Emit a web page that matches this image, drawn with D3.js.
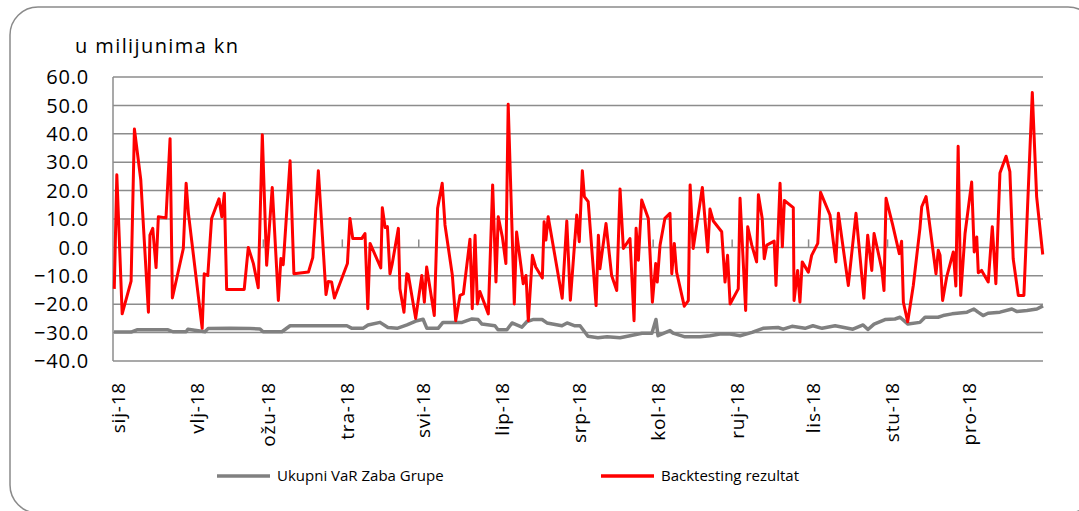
<!DOCTYPE html>
<html>
<head>
<meta charset="utf-8">
<script src="https://cdn.jsdelivr.net/npm/d3@7"></script>
<style>
  body { margin: 0; background: #fff; }
  svg { display: block; }
  text { font-family: "Open Sans", sans-serif; fill: #000; }
</style>
</head>
<body>
<svg id="chart" width="1079" height="511"></svg>
<script>
// month labels (Croatian short names)
const monthLabels = ['sij-18', 'vlj-18', 'ožu-18', 'tra-18', 'svi-18', 'lip-18', 'srp-18', 'kol-18', 'ruj-18', 'lis-18', 'stu-18', 'pro-18']
const yTicks = [60, 50, 40, 30, 20, 10, 0, -10, -20, -30, -40]
const seriesNames = ['Ukupni VaR Zaba Grupe', 'Backtesting rezultat']

// [day of year 2018, value in mil. kn]
const varGroup = [
  [0.4, -29.8], [7.1, -29.8], [9.4, -29.0], [21.6, -29.0], [23.5, -29.7], [28.7, -29.7], [29.4, -28.8],
  [36.1, -29.7], [37.3, -28.6], [45.9, -28.5], [53.8, -28.6], [57.7, -28.7], [58.9, -29.7], [66.3, -29.7],
  [69.5, -27.6], [91.8, -27.6], [93.8, -28.5], [98.1, -28.5], [100.1, -27.3], [104.8, -26.4], [107.9, -28.2],
  [111.5, -28.5], [115.4, -27.3], [119.3, -25.8], [121.7, -25.3], [123.2, -28.5], [127.6, -28.5], [129.5, -26.4],
  [137.0, -26.4], [140.9, -25.2], [143.3, -25.4], [144.8, -27.0], [149.9, -27.6], [151.1, -29.0], [154.6, -29.0],
  [156.6, -26.6], [160.5, -28.1], [162.5, -26.1], [164.8, -25.4], [168.4, -25.4], [170.3, -26.6], [176.2, -27.6],
  [178.2, -26.6], [181.3, -27.6], [183.3, -27.6], [186.4, -31.3], [190.3, -31.8], [193.9, -31.5], [199.0, -31.8],
  [202.9, -31.1], [207.6, -30.2], [211.5, -30.2], [213.1, -25.4], [213.9, -31.1], [218.6, -29.3], [219.8, -30.2],
  [224.5, -31.5], [230.4, -31.5], [234.3, -31.1], [238.2, -30.5], [242.2, -30.5], [246.1, -31.1], [250.8, -29.9],
  [255.1, -28.5], [261.0, -28.2], [263.0, -28.8], [266.5, -27.8], [271.6, -28.5], [274.7, -27.6], [278.3, -28.5],
  [283.4, -27.6], [290.4, -28.8], [294.4, -27.3], [296.3, -28.9], [298.7, -27.0], [303.0, -25.4], [306.9, -25.2],
  [308.9, -24.6], [312.0, -27.0], [316.7, -26.4], [318.7, -24.6], [323.8, -24.6], [325.8, -24.0], [329.3, -23.4],
  [335.2, -22.8], [337.9, -21.7], [339.5, -22.8], [341.5, -24.0], [343.4, -23.2], [348.1, -22.8], [352.8, -21.7],
  [354.8, -22.6], [358.7, -22.2], [362.6, -21.7], [365, -20.6]
]

const backtesting = [
  [0.5, -14.6], [1.5, 25.6], [3.6, -23.4], [7.1, -11.9], [8.4, 41.7], [10.9, 23.8], [13.9, -22.8], [14.5, 4.3],
  [15.6, 6.7], [16.9, -7.1], [17.8, 10.8], [20.8, 10.4], [22.4, 38.3], [23.3, -17.8], [27.6, -0.4], [28.7, 22.6],
  [29.6, 12.0], [35.0, -28.5], [35.8, -9.3], [37.2, -9.9], [38.7, 10.2], [41.6, 17.1], [42.7, 10.8], [43.7, 19.1],
  [44.6, -14.8], [51.5, -14.8], [53.1, 0.0], [55.1, -5.7], [57.0, -14.2], [58.6, 39.7], [60.3, -6.3], [62.5, 21.1],
  [64.9, -18.7], [65.9, -3.9], [66.8, -6.1], [69.5, 30.5], [71.0, -9.3], [76.7, -8.7], [78.4, -3.6], [80.6, 27.0],
  [83.6, -16.6], [84.5, -12.0], [85.8, -12.2], [86.9, -17.8], [92.0, -5.7], [93.0, 10.2], [94.1, 3.1], [97.6, 3.1],
  [98.9, 4.9], [100.0, -21.6], [100.9, 1.4], [105.1, -7.2], [105.7, 14.0], [106.8, 7.0], [107.7, 7.3], [108.7, -9.3],
  [109.6, -5.7], [112.0, 6.7], [112.6, -14.6], [114.2, -22.8], [115.3, -9.3], [115.9, -9.6], [118.8, -25.0],
  [121.2, -9.9], [122.2, -19.3], [123.1, -6.9], [126.1, -24.0], [127.4, 13.8], [129.2, 22.6], [130.3, 7.9],
  [133.2, -9.9], [134.5, -25.8], [136.2, -16.9], [137.5, -16.4], [140.1, 2.9], [141.0, -21.6], [142.1, 4.3],
  [143.0, -19.9], [144.0, -15.5], [147.3, -23.4], [149.0, 22.0], [150.3, -12.2], [151.2, 10.8], [152.8, 3.7],
  [154.2, -5.7], [155.1, 50.4], [157.5, -19.9], [158.4, 5.4], [161.0, -12.8], [162.1, -9.9], [163.0, -25.8],
  [164.6, -2.8], [165.9, -6.9], [168.5, -10.8], [169.2, 9.0], [169.9, 2.6], [170.8, 10.8], [176.3, -17.9],
  [178.1, 9.3], [179.5, -18.6], [182.0, 11.4], [183.0, 2.0], [184.2, 27.0], [185.0, 17.9], [186.5, 16.1],
  [189.6, -20.5], [190.5, 4.3], [191.1, -7.5], [193.5, 8.4], [195.7, -9.9], [197.7, -15.2], [199.0, 20.6],
  [200.3, -0.4], [202.9, 3.1], [204.5, -25.8], [205.3, 6.7], [206.2, -4.5], [207.5, 16.7], [210.1, 10.2],
  [211.7, -19.3], [213.0, -5.7], [213.6, -12.2], [214.7, 0.8], [216.6, 10.2], [218.6, 12.0], [219.3, -9.3],
  [220.3, 1.4], [221.2, -8.7], [224.2, -20.7], [225.8, -18.7], [226.5, 22.0], [227.7, -0.4], [231.3, 21.1],
  [233.4, -1.6], [234.3, 13.5], [235.6, 9.3], [238.9, 5.5], [240.2, -12.2], [241.2, -2.8], [242.2, -19.9],
  [245.4, -14.6], [246.1, 17.3], [248.3, -22.2], [249.1, 7.3], [250.7, 0.8], [252.6, -5.1], [253.3, 18.5],
  [254.8, 10.2], [255.6, -4.0], [256.6, 0.8], [259.5, 2.2], [260.2, -13.4], [261.8, 22.6], [262.7, 0.2],
  [263.5, 16.5], [267.0, 14.0], [267.3, -18.7], [268.7, -8.1], [269.6, -19.3], [270.5, -5.1], [272.9, -8.7],
  [274.2, -2.8], [276.6, 1.4], [277.7, 19.4], [281.4, 11.4], [283.7, -5.1], [284.7, 12.0], [288.6, -13.4],
  [291.6, 12.0], [294.7, -17.9], [296.2, 4.3], [297.8, -8.1], [298.7, 4.9], [301.7, -7.5], [302.6, -15.2],
  [303.4, 17.3], [306.0, 7.9], [308.6, -2.2], [309.5, 2.2], [310.2, -19.3], [311.9, -26.2], [314.1, -13.4],
  [316.7, 6.7], [317.4, 14.3], [319.1, 17.9], [323.0, -9.3], [323.9, -1.0], [324.6, -2.8], [325.6, -18.7],
  [327.2, -10.4], [329.8, -1.6], [330.8, -13.6], [331.7, 35.6], [332.7, -16.9], [334.4, 4.9], [337.0, 23.0],
  [338.0, -1.6], [339.0, 3.7], [339.6, -8.9], [340.9, -8.1], [343.5, -12.2], [345.1, 7.3], [346.5, -12.8],
  [348.1, 26.2], [350.5, 32.1], [352.0, 26.7], [353.3, -4.0], [355.3, -16.9], [357.5, -16.9], [360.8, 54.5],
  [362.5, 17.9], [364.9, -2.5]
]

const start = new Date(2018, 0, 1)
const toDate = d => d3.timeMinute.offset(start, Math.round(d * 1440))

const svg = d3.select('#chart')

// outer frame (right and bottom edges run past the picture)
svg.append('rect')
  .attr('x', 10).attr('y', 7)
  .attr('width', 1086).attr('height', 506)
  .attr('rx', 28).attr('ry', 28)
  .style('fill', 'none')
  .style('stroke', '#8a8a8a')
  .style('stroke-width', 1.5)

let x = d3.scaleTime().domain([start, new Date(2019, 0, 1)]).range([113, 1043])
let y = d3.scaleLinear().domain([-40, 60]).range([361, 77])

// gridlines
svg.append('g').selectAll('line').data(yTicks).join('line')
  .attr('x1', 113).attr('x2', 1043)
  .attr('y1', d => y(d)).attr('y2', d => y(d))
  .style('stroke', '#8c8c8c')
  .style('stroke-width', 1.5)

// left axis line
svg.append('line')
  .attr('x1', 113).attr('x2', 113)
  .attr('y1', y(60)).attr('y2', y(-40))
  .style('stroke', '#8c8c8c')
  .style('stroke-width', 1.5)

// y tick labels
svg.append('g').selectAll('text').data(yTicks).join('text')
  .attr('x', 89)
  .attr('y', d => y(d))
  .attr('dy', '0.36em')
  .attr('text-anchor', 'end')
  .style('font-size', '20px')
  .style('letter-spacing', '0.8px')
  .text(d => d3.format('.1f')(d))

svg.append('text')
  .attr('x', 75).attr('y', 53)
  .style('font-size', '20px')
  .style('letter-spacing', '1.4px')
  .text('u milijunima kn')

// month ticks sit on the zero line
let months = d3.timeMonth.range(start, new Date(2019, 0, 1))

svg.append('g').selectAll('line').data(months.slice(1)).join('line')
  .attr('x1', d => x(d)).attr('x2', d => x(d))
  .attr('y1', y(0)).attr('y2', y(0) - 8)
  .style('stroke', '#8c8c8c')
  .style('stroke-width', 1.5)

svg.append('g').selectAll('text').data(months).join('text')
  .attr('transform', d => `translate(${x(d) + 5},382) rotate(-90)`)
  .attr('dy', '0.35em')
  .attr('text-anchor', 'end')
  .style('font-size', '19px')
  .style('letter-spacing', '0.8px')
  .text((d, i) => monthLabels[i])

let line = d3.line()
  .x(d => x(toDate(d[0])))
  .y(d => y(d[1]))

svg.append('path')
  .datum(varGroup)
  .attr('d', line)
  .style('fill', 'none')
  .style('stroke', '#808080')
  .style('stroke-width', 3.5)
  .style('stroke-linejoin', 'round')

svg.append('path')
  .datum(backtesting)
  .attr('d', line)
  .style('fill', 'none')
  .style('stroke', '#ff0000')
  .style('stroke-width', 3)
  .style('stroke-linejoin', 'round')

// legend
let legend = [
  { name: seriesNames[0], color: '#808080', x: 217 },
  { name: seriesNames[1], color: '#ff0000', x: 601 }
]

let lg = svg.append('g').selectAll('g').data(legend).join('g')
  .attr('transform', d => `translate(${d.x},476)`)

lg.append('line')
  .attr('x1', 0).attr('x2', 53)
  .style('stroke', d => d.color)
  .style('stroke-width', 3.5)

lg.append('text')
  .attr('x', 60)
  .attr('dy', '0.35em')
  .style('font-size', '15px')
  .text(d => d.name)
</script>
</body>
</html>
